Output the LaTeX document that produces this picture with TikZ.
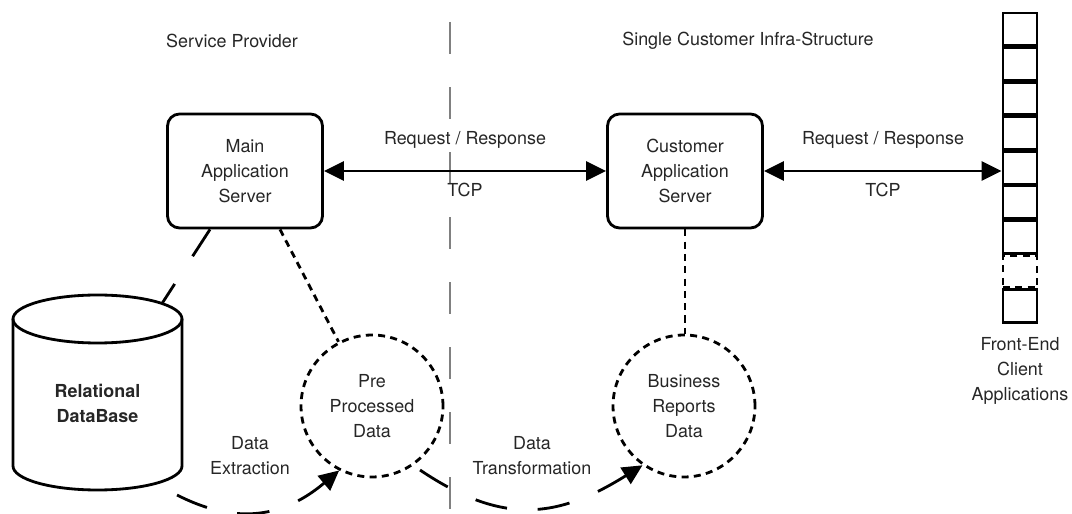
\documentclass[tikz,border=0pt]{standalone}
\usepackage{fontspec}
\setmainfont{TeX Gyre Heros}
\usetikzlibrary{arrows.meta}

\begin{document}
\begin{tikzpicture}[
x=0.02cm, y=0.02cm,
every node/.style={font=\fontsize{10.2}{14.2}\selectfont, text=black!85, align=center},
server/.style={rectangle, rounded corners=0.24cm, draw=black, line width=1.6pt, minimum width=3.1cm, minimum height=2.28cm},
store/.style={circle, draw=black, line width=1.6pt, dash pattern=on 4pt off 3pt, minimum size=2.84cm},
slot/.style={rectangle, draw=black, line width=1.6pt, minimum width=0.68cm, minimum height=0.65cm},
gapslot/.style={slot, dash pattern=on 4pt off 3pt},
link/.style={line width=1.6pt, {Triangle[length=0.4cm,width=0.38cm]}-{Triangle[length=0.4cm,width=0.38cm]}},
feed/.style={line width=1.6pt, dash pattern=on 18.5pt off 17.5pt, -{Triangle[length=0.4cm,width=0.38cm]}},
]
\useasboundingbox (0,0) rectangle (1072,514);
\draw[gray, line width=0.6pt, dash pattern=on 18.2pt off 18.8pt] (450,492) -- (450,0);

\node (sp) at (232,473) {Service Provider};
\node (sc) at (748,473) {Single Customer Infra-Structure};

\node[server] (main) at (245,343) {Main\\Application\\Server};
\node[server] (cust) at (685,343) {Customer\\Application\\Server};

\foreach \i/\s in {1/slot,2/slot,3/slot,4/slot,5/slot,6/slot,7/slot,8/gapslot,9/slot}
	\node[\s] (c\i) at (1020,{502-34.6*(\i-0.5)}) {};
\node (fe) at (1020,143) {Front-End\\Client\\Applications};

\draw[line width=1.6pt] (97.5,195) ellipse [x radius=84.5, y radius=24];
\draw[line width=1.6pt] (13,195) -- (13,48) arc [start angle=180, end angle=360, x radius=84.5, y radius=24] -- (182,195);
\node[font=\fontsize{10.2}{14.2}\selectfont\bfseries] (db) at (97.5,111) {Relational\\DataBase};
\coordinate (dbtop) at (162,210.5);

\node[store] (pre) at (372,108) {Pre\\Processed\\Data};
\node[store] (biz) at (684,108) {Business\\Reports\\Data};

\draw[line width=1.6pt, dash pattern=on 18.2pt off 18.8pt] ([xshift=-0.7cm]main.south) -- (dbtop);
\draw[line width=1.6pt, dash pattern=on 4pt off 3pt] ([xshift=0.7cm]main.south) -- (pre);
\draw[line width=1.6pt, dash pattern=on 4pt off 3pt] (cust.south) -- (cust.south |- biz.north);

\draw[link] (main) -- (cust);
\draw[link] (cust.east) -- (cust.east -| c5.west);
\node (rq1) at (465,374) {Request / Response};
\node (tcp1) at (465,324) {TCP};
\node (rq2) at (883,374) {Request / Response};
\node (tcp2) at (883,324) {TCP};

\coordinate (ext) at (177,19);
\coordinate (trf) at (420,44);
\draw[feed] (ext) .. controls +(-27:1.4cm) and +(220:1.4cm) .. (pre.243);
\draw[feed] (trf) .. controls +(-34:2cm) and +(212:2cm) .. (biz.235);
\node (dx) at (250,58) {Data\\Extraction};
\node (dt) at (532,58) {Data\\Transformation};
\end{tikzpicture}
\end{document}
